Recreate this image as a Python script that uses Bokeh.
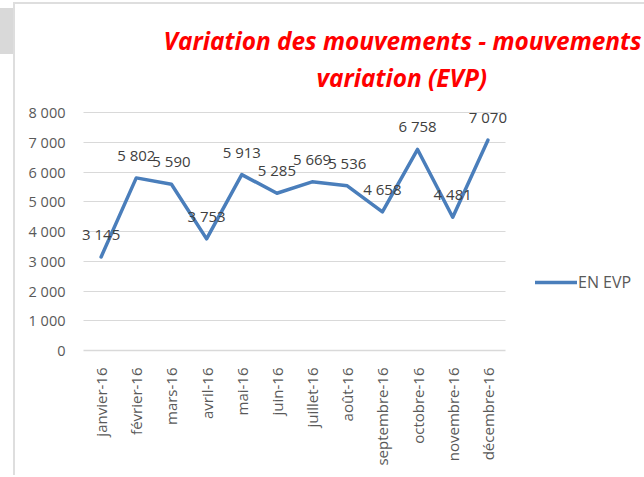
import math
from bokeh.plotting import figure
from bokeh.models import (FactorRange, Range1d, FixedTicker, Title, Legend, LegendItem,
                          ColumnDataSource, InlineStyleSheet)
from bokeh.core.properties import value
from bokeh.embed import file_html
from bokeh.resources import INLINE

months = ["janvier-16", "février-16", "mars-16", "avril-16", "mai-16", "juin-16",
          "juillet-16", "août-16", "septembre-16", "octobre-16", "novembre-16", "décembre-16"]
evp = [3145, 5802, 5590, 3753, 5913, 5285, 5669, 5536, 4658, 6758, 4481, 7070]
y_ticks = [0, 1000, 2000, 3000, 4000, 5000, 6000, 7000, 8000]
y_tick_labels = ["0", "1 000", "2 000", "3 000", "4 000", "5 000", "6 000", "7 000", "8 000"]
series_name = "EN EVP"
title_lines = ["Variation des mouvements - mouvements", "variation (EVP)"]

FONT = "Open Sans"
BLUE = "#4a7ebb"

FRAME_H = 253
Y_END = 8000 * FRAME_H / 238
PAD = 0.2                      # per-side categorical room so labels are not clipped
CAT_PX = 422 / 12
FRAME_W = round(CAT_PX * (12 + 2 * PAD))
LEFT = 83 - round(CAT_PX * PAD)
TOTAL_W = 640

css = InlineStyleSheet(css="""
:host {
  background:
    linear-gradient(#d9d9d9, #d9d9d9) 0px 8px / 13px 46px no-repeat,
    linear-gradient(#dedede, #dedede) 13px 2px / 2px 100% no-repeat,
    linear-gradient(#dedede, #dedede) 13px 2px / 100% 2px no-repeat,
    white;
}
""")

p = figure(x_range=FactorRange(*months, range_padding=PAD, range_padding_units="absolute"),
           y_range=Range1d(0, Y_END),
           frame_width=FRAME_W, frame_height=FRAME_H,
           min_border_left=LEFT, min_border_right=TOTAL_W - LEFT - FRAME_W,
           min_border_top=97, min_border_bottom=125,
           output_backend="svg", toolbar_location=None, stylesheets=[css])
p.outline_line_color = None
p.background_fill_color = None
p.border_fill_color = None

p.xgrid.grid_line_color = None
p.ygrid.grid_line_color = "#d9d9d9"
p.ygrid.grid_line_width = 1
p.ygrid.cross_bounds = (0, len(months))
p.yaxis.ticker = FixedTicker(ticks=y_ticks)
p.yaxis.major_label_overrides = {t: l for t, l in zip(y_ticks, y_tick_labels)}
p.yaxis.axis_line_color = None
p.yaxis.major_tick_line_color = None
p.yaxis.minor_tick_line_color = None
p.yaxis.major_label_standoff = 12 - (83 - LEFT)
p.yaxis.major_label_text_font = FONT
p.yaxis.major_label_text_font_size = "14.5px"
p.yaxis.major_label_text_color = "#595959"

p.xaxis.bounds = (0, len(months))
p.xaxis.axis_line_color = "#d9d9d9"
p.xaxis.axis_line_width = 1.5
p.xaxis.major_tick_line_color = None
p.xaxis.major_label_orientation = math.pi / 2
p.xaxis.major_label_standoff = 11
p.xaxis.major_label_text_font = FONT
p.xaxis.major_label_text_font_size = "15px"
p.xaxis.major_label_text_color = "#595959"

src = ColumnDataSource(dict(x=months, y=evp,
                            lbl=[f"{v:,}".replace(",", " ") for v in evp]))
r = p.line("x", "y", source=src, line_color=BLUE, line_width=3.5,
           line_cap="round", line_join="round")
p.text("x", "y", text="lbl", source=src, y_offset=-23, text_align="center",
       text_baseline="middle", text_font=value(FONT), text_font_size="15px",
       text_color="#404040")

legend = Legend(items=[LegendItem(label=series_name, renderers=[r])],
                location=(30 - (LEFT + FRAME_W - 505), 57), glyph_width=42, glyph_height=16,
                label_text_font=FONT, label_text_font_size="16px",
                label_text_color="#595959", label_standoff=1,
                border_line_color=None, background_fill_alpha=0,
                padding=0, margin=0)
p.add_layout(legend, "right")

p.title.visible = False
for txt, so, off in zip(reversed(title_lines), [8, -4], [316 - LEFT, 163 - LEFT]):
    p.add_layout(Title(text=txt, align="left", offset=off, standoff=so,
                       text_font=FONT, text_font_size="24.4px", text_font_style="bold italic",
                       text_color="#ff0000"), "above")

open("out.html", "w").write(file_html(p, INLINE))
